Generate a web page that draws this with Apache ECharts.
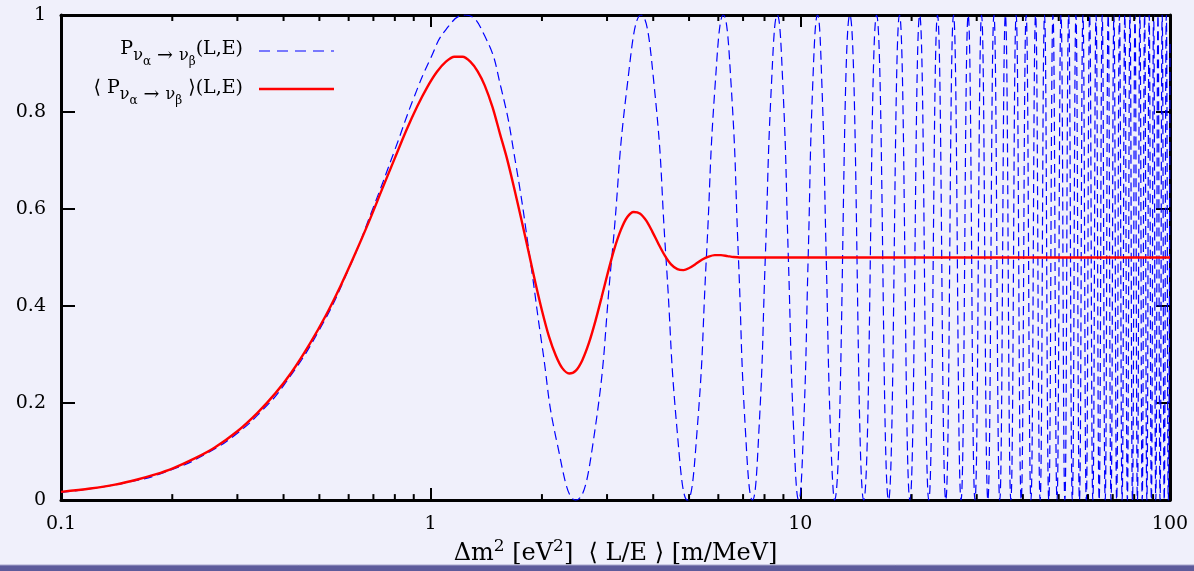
<!DOCTYPE html>
<html>
<head>
    <meta charset="utf-8">
    <title>oscillation probability</title>
    <script src="https://cdn.jsdelivr.net/npm/echarts@6/dist/echarts.min.js"></script>
    <style>
        html, body { margin: 0; padding: 0; background: #f0f0fb; }
        #chart1 { width: 1194px; height: 571px; }
    </style>
</head>
<body>
<div id="chart1"></div>
<script type="text/javascript">
    // P(L,E) - dashed curve (peaks, zeros and a few points in between)
    var probX = [0.1, 0.15, 0.2, 0.25, 0.3, 0.35, 0.4, 0.5, 0.6, 0.7, 0.8, 0.9, 1.0, 1.1, 1.24,
        1.4, 1.55, 1.7, 1.86, 2.0, 2.2, 2.47, 2.75, 3.09, 3.4, 3.71, 4.02, 4.33, 4.64, 4.95,
        5.26, 5.57, 5.88, 6.19, 6.5, 6.8, 7.1, 7.42, 7.73, 8.04, 8.35, 8.66, 8.97, 9.28, 9.59, 9.9,
        10.2, 10.5, 10.8, 11.13, 11.44, 11.75, 12.06, 12.37,
        13.61, 14.84, 16.08, 17.32, 18.55, 19.79, 21.03, 22.26, 23.50, 24.74, 25.97, 27.21,
        28.45, 29.68, 30.92, 32.16, 33.40, 34.63, 35.87, 37.11, 38.35, 39.58, 40.82, 42.05,
        43.29, 44.53, 45.77, 47.00, 48.24, 49.47, 50.72, 51.95, 53.19, 54.42, 55.66, 56.89,
        58.14, 59.37, 60.61, 61.84, 63.09, 64.32, 65.56, 66.79, 68.04, 69.26, 70.51, 71.74,
        72.98, 74.21, 75.46, 76.68, 77.93, 79.16, 80.41, 81.63, 82.88, 84.10, 85.36, 86.58,
        87.83, 89.05, 90.30, 91.53, 92.78, 94.00, 95.25, 96.47, 97.73, 98.95, 100];
    var probY = [0.016, 0.036, 0.063, 0.098, 0.138, 0.185, 0.236, 0.351, 0.476, 0.604, 0.722, 0.829, 0.911, 0.970, 1.0,
        0.957, 0.850, 0.692, 0.494, 0.320, 0.116, 0.0, 0.118, 0.5, 0.853, 1.0, 0.857, 0.5, 0.145, 0.0,
        0.146, 0.5, 0.854, 1.0, 0.854, 0.5, 0.146, 0.0, 0.146, 0.5, 0.854, 1.0, 0.854, 0.5, 0.146, 0.0,
        0.146, 0.5, 0.854, 1.0, 0.854, 0.5, 0.146, 0.0,
        1, 0, 1, 0, 1, 0, 1, 0, 1, 0, 1, 0,
        1, 0, 1, 0, 1, 0, 1, 0, 1, 0, 1, 0,
        1, 0, 1, 0, 1, 0, 1, 0, 1, 0, 1, 0,
        1, 0, 1, 0, 1, 0, 1, 0, 1, 0, 1, 0,
        1, 0, 1, 0, 1, 0, 1, 0, 1, 0, 1, 0,
        1, 0, 1, 0, 1, 0, 1, 0, 1, 0, 0.945];

    // <P>(L,E) - averaged curve (red)
    var avgX = [0.1, 0.12, 0.14, 0.16, 0.18, 0.2, 0.23, 0.26, 0.3, 0.34, 0.38, 0.42, 0.47, 0.52, 0.57,
        0.62, 0.68, 0.74, 0.8, 0.86, 0.92, 0.98, 1.04, 1.1, 1.16, 1.22, 1.28, 1.34, 1.4, 1.47, 1.54,
        1.61, 1.68, 1.76, 1.84, 1.92, 2.0, 2.09, 2.18, 2.27, 2.37, 2.47, 2.57, 2.68, 2.79, 2.9, 3.02,
        3.14, 3.27, 3.4, 3.54, 3.68, 3.83, 3.98, 4.14, 4.3, 4.47, 4.65, 4.83, 5.02, 5.22, 5.43, 5.65,
        5.87, 6.1, 6.35, 6.6, 6.86, 7.13, 7.5, 8, 100];
    var avgY = [0.017, 0.024, 0.032, 0.042, 0.053, 0.065, 0.086, 0.108, 0.142, 0.180, 0.220, 0.263, 0.321, 0.380, 0.441,
        0.502, 0.573, 0.642, 0.705, 0.763, 0.812, 0.852, 0.883, 0.904, 0.914, 0.914, 0.904, 0.884, 0.855, 0.81, 0.755,
        0.703, 0.645, 0.578, 0.512, 0.448, 0.391, 0.337, 0.298, 0.272, 0.261, 0.267, 0.288, 0.324, 0.369, 0.418, 0.471,
        0.518, 0.557, 0.583, 0.594, 0.591, 0.576, 0.553, 0.527, 0.504, 0.486, 0.476, 0.474, 0.479, 0.487, 0.496, 0.502,
        0.505, 0.505, 0.503, 0.501, 0.5, 0.5, 0.5, 0.5, 0.5];

    // log axis minor ticks (2..9 in each decade)
    var minorTicks = [0.2, 0.3, 0.4, 0.5, 0.6, 0.7, 0.8, 0.9, 2, 3, 4, 5, 6, 7, 8, 9,
        20, 30, 40, 50, 60, 70, 80, 90];

    var serif = 'DejaVu Serif';
    var frame = { show: true, onZero: false, lineStyle: { color: '#000', width: 3 } };
    var legendRich = {
        n: { fontFamily: serif, fontSize: 19, fill: '#000' },
        s: { fontFamily: serif, fontSize: 16, fill: '#000', padding: [13, 0, 0, 0] },
        a: { fontFamily: serif, fontSize: 19, fill: '#000', padding: [15, 0, 0, 0] },
        ss: { fontFamily: serif, fontSize: 12, fill: '#000', padding: [26, 0, 0, 0] }
    };

    function zip(xs, ys) {
        return xs.map(function (x, i) { return [x, ys[i]]; });
    }

    var myChart = echarts.init(document.getElementById('chart1'));

    var option = {
        backgroundColor: '#f0f0fb',
        animation: false,
        grid: { left: 61, right: 24, top: 15, bottom: 67 },
        xAxis: [{
            type: 'log', logBase: 10, min: 0.1, max: 100,
            axisLine: frame,
            axisTick: { inside: true, length: 12, lineStyle: { color: '#000', width: 2 } },
            axisLabel: { margin: 14, color: '#000', fontFamily: serif, fontSize: 19 },
            splitLine: { show: false },
            name: '{n|\u0394m}{sup|2}{n| [eV}{sup|2}{n|]  \u27e8 L/E \u27e9 [m/MeV]}',
            nameLocation: 'middle',
            nameGap: 37,
            nameTextStyle: {
                rich: {
                    n: { fontFamily: serif, fontSize: 24, color: '#000' },
                    sup: { fontFamily: serif, fontSize: 17, color: '#000', padding: [0, 0, 15, 0] }
                }
            }
        }, {
            type: 'log', logBase: 10, min: 0.1, max: 100, position: 'top',
            axisLine: frame,
            axisTick: { inside: true, length: 12, lineStyle: { color: '#000', width: 2 } },
            axisLabel: { show: false },
            splitLine: { show: false }
        }],
        yAxis: [{
            type: 'value', min: 0, max: 1, interval: 0.2,
            axisLine: frame,
            axisTick: { inside: true, length: 14, lineStyle: { color: '#000', width: 2 } },
            axisLabel: { margin: 15, color: '#000', fontFamily: serif, fontSize: 19 },
            splitLine: { show: false }
        }, {
            type: 'value', min: 0, max: 1, interval: 0.2, position: 'right',
            axisLine: frame,
            axisTick: { inside: true, length: 14, lineStyle: { color: '#000', width: 2 } },
            axisLabel: { show: false },
            splitLine: { show: false }
        }],
        series: [{
            name: 'P',
            type: 'line',
            data: zip(probX, probY),
            showSymbol: false,
            smooth: 0.5,
            lineStyle: { color: '#0000ff', width: 1.2, type: [9, 5] },
            z: 2
        }, {
            name: '<P>',
            type: 'line',
            data: zip(avgX, avgY),
            showSymbol: false,
            smooth: 0.3,
            lineStyle: { color: '#ff0000', width: 2.4 },
            z: 3
        }, {
            // minor ticks on bottom and top frame
            type: 'custom',
            data: minorTicks.map(function (v) { return [v, 0]; }),
            silent: true,
            z: 10,
            renderItem: function (params, api) {
                var b = api.coord([api.value(0), 0]);
                var t = api.coord([api.value(0), 1]);
                var st = { stroke: '#000', lineWidth: 2 };
                return {
                    type: 'group',
                    children: [
                        { type: 'line', shape: { x1: b[0], y1: b[1], x2: b[0], y2: b[1] - 6 }, style: st },
                        { type: 'line', shape: { x1: t[0], y1: t[1], x2: t[0], y2: t[1] + 6 }, style: st }
                    ]
                };
            }
        }],
        graphic: [{
            type: 'text', x: 243, y: 49, z: 20,
            style: {
                text: '{n|P}{s|\u03bd}{ss|\u03b1}{a| \u2192 }{s|\u03bd}{ss|\u03b2}{n|(L,E)}',
                align: 'right', verticalAlign: 'middle',
                rich: legendRich
            }
        }, {
            type: 'text', x: 243, y: 88, z: 20,
            style: {
                text: '{n|\u27e8 P}{s|\u03bd}{ss|\u03b1}{a| \u2192 }{s|\u03bd}{ss|\u03b2}{n| \u27e9(L,E)}',
                align: 'right', verticalAlign: 'middle',
                rich: legendRich
            }
        }, {
            type: 'line', z: 20,
            shape: { x1: 259, y1: 51, x2: 334, y2: 51 },
            style: { stroke: '#0000ff', lineWidth: 1.2, lineDash: [11, 7] }
        }, {
            type: 'line', z: 20,
            shape: { x1: 259, y1: 89, x2: 334, y2: 89 },
            style: { stroke: '#ff0000', lineWidth: 2.4 }
        }, {
            // slide footer band
            type: 'rect', z: 50,
            shape: { x: 0, y: 565, width: 1194, height: 6 },
            style: { fill: '#5d5b9b' }
        }, {
            type: 'line', z: 51,
            shape: { x1: 0, y1: 565, x2: 1194, y2: 565 },
            style: { stroke: '#a8a6cc', lineWidth: 1 }
        }]
    };
    myChart.setOption(option);
</script>
</body>
</html>
